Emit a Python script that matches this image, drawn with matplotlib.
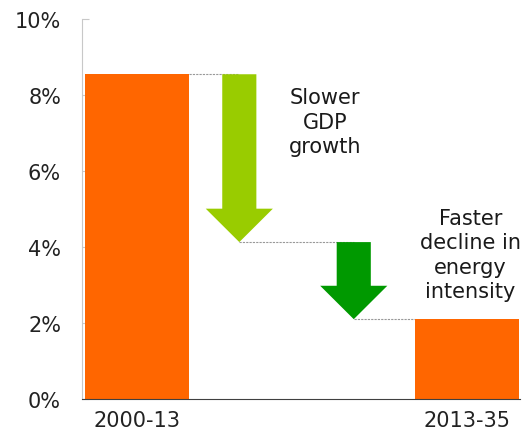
import matplotlib
matplotlib.use("Agg")
import matplotlib.pyplot as plt
from matplotlib.ticker import FuncFormatter

# data
periods = ["2000-13", "2013-35"]
growth = [8.55, 2.1]                 # % per year
drivers = ["Slower\nGDP\ngrowth", "Faster\ndecline in\nenergy\nintensity"]
steps = [8.55, 4.13, 2.1]            # start level, after GDP, after energy intensity
yticks = [0, 2, 4, 6, 8, 10]

orange = "#FF6600"
arrow_colors = ["#99CC00", "#009900"]

bar_x = [0, 3.0]
arrow_x = [0.93, 1.97]
bar_w = 0.945

fig = plt.figure(figsize=(5.22, 4.39), dpi=100)
ax = fig.add_axes([0.157, 0.089, 0.839, 0.865])

ax.bar(bar_x, growth, width=bar_w, color=orange, zorder=2)

# dotted connectors between the steps
conn_from = [bar_x[0] + bar_w / 2, arrow_x[0], arrow_x[1]]
conn_to = [arrow_x[0], arrow_x[1], bar_x[1] - bar_w / 2]
for y, x0, x1 in zip(steps, conn_from, conn_to):
    ax.hlines(y, x0, x1, colors="#999999", linestyles=(0, (2, 1)), lw=0.8, zorder=1)

# arrows showing each driver's drop
for i, (x, c) in enumerate(zip(arrow_x, arrow_colors)):
    ax.arrow(x, steps[i], 0, steps[i + 1] - steps[i], width=0.31, head_width=0.61,
             head_length=0.88, length_includes_head=True, color=c, lw=0, zorder=3)

ax.text(1.71, 7.3, drivers[0], ha="center", va="center", fontsize=15, linespacing=1.28,
        color="#1a1a1a")
ax.text(3.03, 3.8, drivers[1], ha="center", va="center", fontsize=15, linespacing=1.28,
        color="#1a1a1a")

ax.set_xlim(-0.5, 3.48)
ax.set_ylim(0, 10)
ax.set_yticks(yticks)
ax.yaxis.set_major_formatter(FuncFormatter(lambda v, p: f"{v:.0f}%"))
ax.set_xticks(bar_x)
ax.set_xticklabels(periods)
ax.tick_params(axis="y", direction="in", length=5, color="#c8c8c8", pad=15,
               labelsize=15, labelcolor="#222222")
ax.tick_params(axis="x", length=0, pad=8, labelsize=15, labelcolor="#222222")

for s in ["top", "right"]:
    ax.spines[s].set_visible(False)
ax.spines["left"].set_color("#c8c8c8")
ax.spines["bottom"].set_color("#404040")

fig.savefig("out.png", dpi=100)
